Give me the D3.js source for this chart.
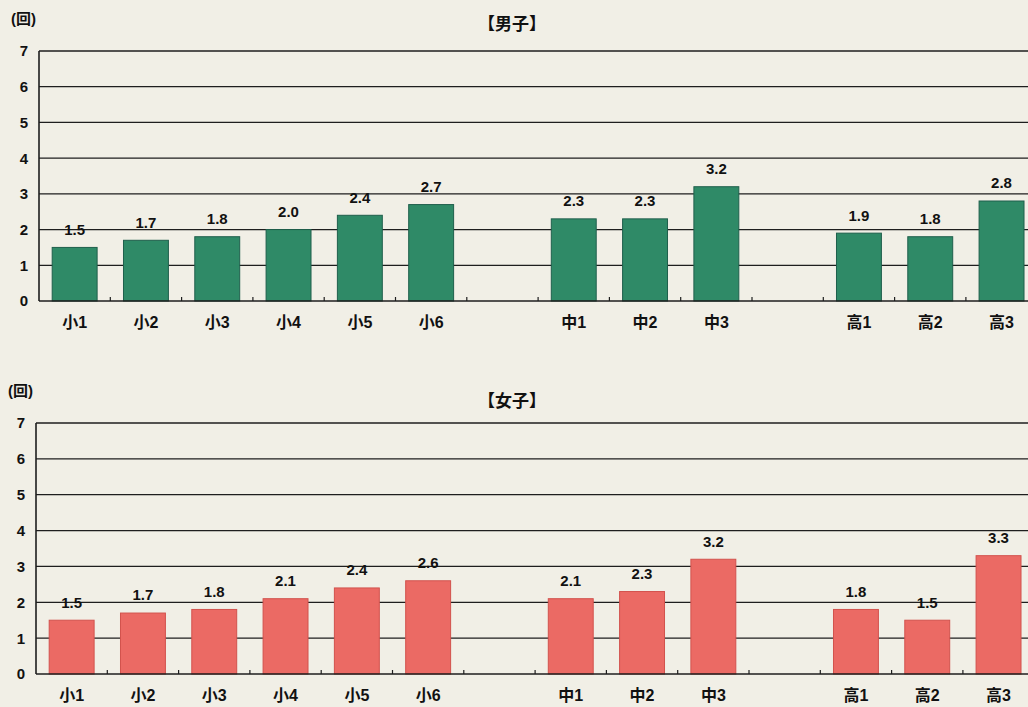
<!DOCTYPE html>
<html><head><meta charset="utf-8">
<script src="https://cdn.jsdelivr.net/npm/d3@7"></script>
<style>html,body{margin:0;background:#f1efe6;} svg{display:block;}</style>
</head><body><svg id="c" width="1028" height="707"></svg>
<script>
const categories = ["小1","小2","小3","小4","小5","小6","","中1","中2","中3","","高1","高2","高3"];
const boysValues = [1.5,1.7,1.8,2.0,2.4,2.7,null,2.3,2.3,3.2,null,1.9,1.8,2.8];
const girlsValues = [1.5,1.7,1.8,2.1,2.4,2.6,null,2.1,2.3,3.2,null,1.8,1.5,3.3];
const yTicks = [0,1,2,3,4,5,6,7];
const unitLabel = "(回)";
const boysTitle = "【男子】";
const girlsTitle = "【女子】";

const svg = d3.select("#c");
const FONT = "'Liberation Sans Narrow','Liberation Sans','Noto Sans CJK JP',sans-serif";
const step = 71.3;

function panel(cfg){
  const g = svg.append("g");
  const x = d3.scaleBand().domain(d3.range(categories.length))
    .range([cfg.x0, cfg.x0 + step*categories.length]).paddingInner(0.37).paddingOuter(0.185);
  const y = d3.scaleLinear().domain([0,7]).range([cfg.y0, cfg.y7]);

  g.selectAll("line.grid").data(yTicks.filter(d=>d>0)).join("line")
    .attr("x1", cfg.x0).attr("x2", 1040).attr("y1", d=>y(d)).attr("y2", d=>y(d))
    .attr("stroke","#1e1e1e").attr("stroke-width",1.3);

  g.selectAll("rect").data(cfg.values.map((v,i)=>({v,i})).filter(d=>d.v!=null)).join("rect")
    .attr("x", d=>x(d.i)).attr("width", x.bandwidth())
    .attr("y", d=>y(d.v)).attr("height", d=>y(0)-y(d.v))
    .attr("fill", cfg.color).attr("stroke", cfg.edge).attr("stroke-width",1);

  g.append("line").attr("x1",cfg.x0).attr("x2",1040).attr("y1",y(0)).attr("y2",y(0))
    .attr("stroke","#1e1e1e").attr("stroke-width",1.6);
  g.append("line").attr("x1",cfg.x0).attr("x2",cfg.x0).attr("y1",y(7)).attr("y2",y(0))
    .attr("stroke","#1e1e1e").attr("stroke-width",1.6);

  g.selectAll("line.tk").data(d3.range(1,categories.length)).join("line")
    .attr("x1", k=>cfg.x0 + k*step).attr("x2", k=>cfg.x0 + k*step)
    .attr("y1", y(0)).attr("y2", y(0)-4)
    .attr("stroke","#1e1e1e").attr("stroke-width",1.2);

  g.selectAll("text.yt").data(yTicks).join("text")
    .attr("x", cfg.x0-11).attr("y", d=>y(d)).attr("dy","0.36em")
    .attr("text-anchor","end").attr("font-family",FONT).attr("font-weight","bold")
    .attr("font-size",15).attr("fill","#111").text(d=>d);

  g.selectAll("text.cat").data(categories.map((c,i)=>({c,i})).filter(d=>d.c)).join("text")
    .attr("x", d=>x(d.i)+x.bandwidth()/2).attr("y", y(0)+21).attr("dy","0.36em")
    .attr("text-anchor","middle").attr("font-family",FONT).attr("font-weight","bold")
    .attr("font-size",16).attr("fill","#111").text(d=>d.c);

  g.selectAll("text.val").data(cfg.values.map((v,i)=>({v,i})).filter(d=>d.v!=null)).join("text")
    .attr("x", d=>x(d.i)+x.bandwidth()/2).attr("y", d=>y(d.v)-18).attr("dy","0.36em")
    .attr("text-anchor","middle").attr("font-family",FONT).attr("font-weight","bold")
    .attr("font-size",15).attr("fill","#111").text(d=>d3.format(".1f")(d.v));

  g.append("text").attr("x", cfg.x0-28).attr("y", cfg.unitY).attr("dy","0.36em")
    .attr("font-family",FONT).attr("font-weight","bold").attr("font-size",15).attr("fill","#111")
    .text(unitLabel);
  g.append("text").attr("x", 512).attr("y", cfg.titleY).attr("dy","0.36em")
    .attr("text-anchor","middle").attr("font-family",FONT).attr("font-weight","bold")
    .attr("font-size",17).attr("fill","#111").text(cfg.title);
}

panel({x0:39, y0:301, y7:51, unitY:19, titleY:24, values:boysValues, title:boysTitle, color:"#2f8a67", edge:"#1f5f4c"});
panel({x0:36, y0:674, y7:423, unitY:391, titleY:401, values:girlsValues, title:girlsTitle, color:"#eb6a64", edge:"#d2524d"});
</script></body></html>
